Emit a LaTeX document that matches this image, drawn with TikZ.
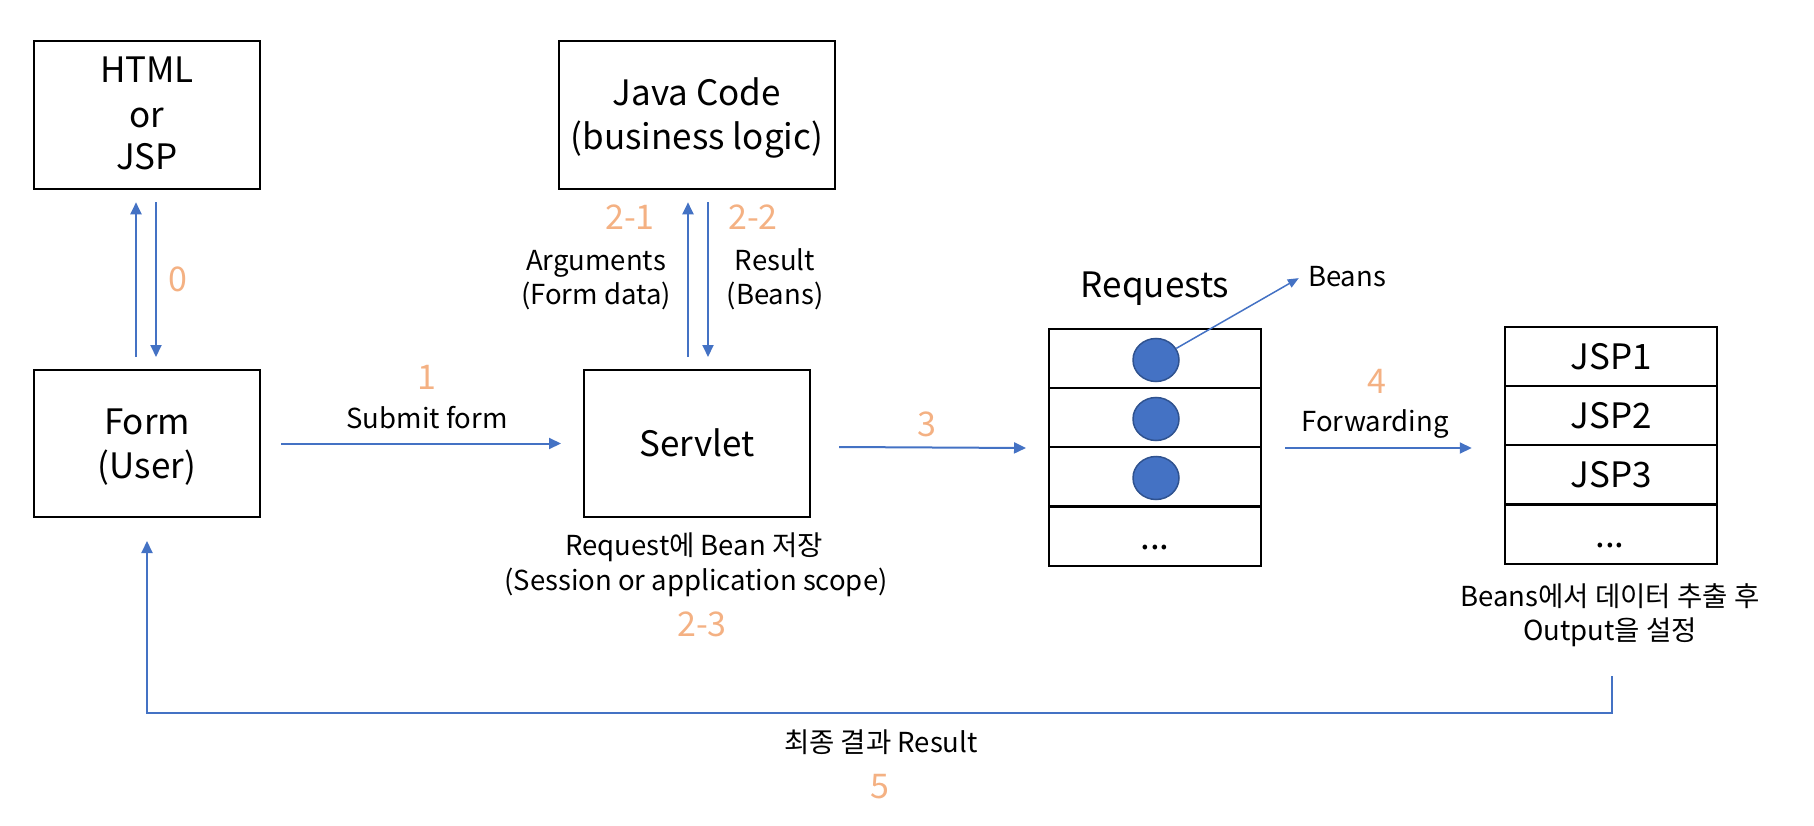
\documentclass[tikz,border=0pt]{standalone}
\usepackage{fontspec}
\setmainfont{Noto Sans CJK KR}
\usetikzlibrary{arrows.meta,shapes.geometric}
\definecolor{arrblue}{HTML}{4472C4}
\definecolor{numorange}{HTML}{F4B183}
\definecolor{beanedge}{HTML}{2F528F}
\tikzset{
  box/.style={draw=black, line width=2pt, inner sep=0pt},
  cell/.style={draw=black, line width=2pt, inner sep=0pt, minimum width=212pt, minimum height=59pt},
  arr/.style={draw=arrblue, line width=2pt, -{Triangle[length=12pt,width=11pt]}},
  big/.style={anchor=base, inner sep=0pt, font=\fontsize{35}{40}\selectfont},
  small/.style={anchor=base, inner sep=0pt, font=\fontsize{27.5}{31}\selectfont},
  num/.style={anchor=base, inner sep=0pt, text=numorange, font=\fontsize{34}{40}\selectfont},
  bean/.style={ellipse, draw=beanedge, line width=1.5pt, fill=arrblue, minimum width=46pt, minimum height=43pt, inner sep=0pt}
}
\begin{document}
\begin{tikzpicture}[x=1pt,y=-1pt]
\useasboundingbox (0,0) rectangle (1814,826);
% boxes
\node[box, minimum width=226.5pt, minimum height=148.6pt] (html) at (147,115) {};
\node[box, minimum width=276pt, minimum height=148.6pt] (java) at (697,115) {};
\node[box, minimum width=226.5pt, minimum height=147pt] (form) at (147,443.5) {};
\node[box, minimum width=226pt, minimum height=147pt] (servlet) at (697,443.5) {};
% box texts
\node[big] (t1) at (147,83) {HTML};
\node[big] (t2) at (147,128) {or};
\node[big] (t3) at (147,170) {JSP};
\node[big] (t4) at (697,106) {Java Code};
\node[big] (t5) at (697,150) {(business logic)};
\node[big] (t6) at (147,434) {Form};
\node[big] (t7) at (147,478) {(User)};
\node[big] (t8) at (697,456) {Servlet};
% requests table
\node[big] (reqt) at (1155,297) {Requests};
\node[cell] (r1) at (1155,358.5) {};
\node[cell] (r2) at (1155,417.5) {};
\node[cell] (r3) at (1155,476.5) {};
\node[cell] (r4) at (1155,536) {};
\node[big] (rdots) at (1155,549) {...};
\node[bean] (c1) at (1156,360) {};
\node[bean] (c2) at (1156,419) {};
\node[bean] (c3) at (1156,478) {};
\node[small] (beansl) at (1347,287) {Beans};
% jsp table
\node[cell, minimum width=212.5pt] (j1) at (1611,356.5) {};
\node[cell, minimum width=212.5pt] (j2) at (1611,415.5) {};
\node[cell, minimum width=212.5pt] (j3) at (1611,474.5) {};
\node[cell, minimum width=212.5pt] (j4) at (1611,534) {};
\node[big] (jt1) at (1611,369) {JSP1};
\node[big] (jt2) at (1611,428) {JSP2};
\node[big] (jt3) at (1611,487) {JSP3};
\node[big] (jdots) at (1610,547) {...};
% small labels
\node[small] (a1) at (596,270) {Arguments};
\node[small] (a2) at (596,304) {(Form data)};
\node[small] (b1) at (775,270) {Result};
\node[small] (b2) at (775,304) {(Beans)};
\node[small] (sub) at (427,428) {Submit form};
\node[small] (fwd) at (1375,431) {Forwarding};
\node[small] (s1) at (694,555) {Request에 Bean 저장};
\node[small] (s2) at (696,590) {(Session or application scope)};
\node[small] (o1) at (1610,606) {Beans에서 데이터 추출 후};
\node[small] (o2) at (1610,640) {Output을 설정};
\node[small] (fin) at (881,752) {최종 결과 Result};
% numbers
\node[num] (n0) at (178,291) {0};
\node[num] (n21) at (630,230) {2-1};
\node[num] (n22) at (753,230) {2-2};
\node[num] (n1) at (427,389) {1};
\node[num] (n3) at (927,436) {3};
\node[num] (n4) at (1377,393) {4};
\node[num] (n23) at (702,636) {2-3};
\node[num] (n5) at (880,798) {5};
% connectors
\draw[arr] ([xshift=-11pt,yshift=12pt]form.north) -- ([xshift=-11pt,yshift=-12pt]html.south);
\draw[arr] ([xshift=9pt,yshift=-12pt]html.south) -- ([xshift=9pt,yshift=12pt]form.north);
\draw[arr] ([xshift=-9pt,yshift=12pt]servlet.north) -- ([xshift=-9pt,yshift=-12pt]java.south);
\draw[arr] ([xshift=11pt,yshift=-12pt]java.south) -- ([xshift=11pt,yshift=12pt]servlet.north);
\draw[arr] ([xshift=20pt]form.east) -- ([xshift=-22pt]servlet.west);
\draw[arr] ([xshift=28pt,yshift=-3.5pt]servlet.east) -- ([xshift=-22pt]r2.south west);
\draw[arr] ([xshift=23pt]r2.south east) -- ([xshift=-32pt,yshift=-2pt]j2.south west);
\draw[draw=arrblue, line width=1.5pt, -{Triangle[length=11pt,width=9pt]}] (c1) -- ([xshift=-9pt,yshift=-1pt]beansl.west);
\coordinate (rs) at (1612,676);
\draw[arr] (rs) -- ++(0,37) -| ([yshift=-23pt]form.south);
\end{tikzpicture}
\end{document}
